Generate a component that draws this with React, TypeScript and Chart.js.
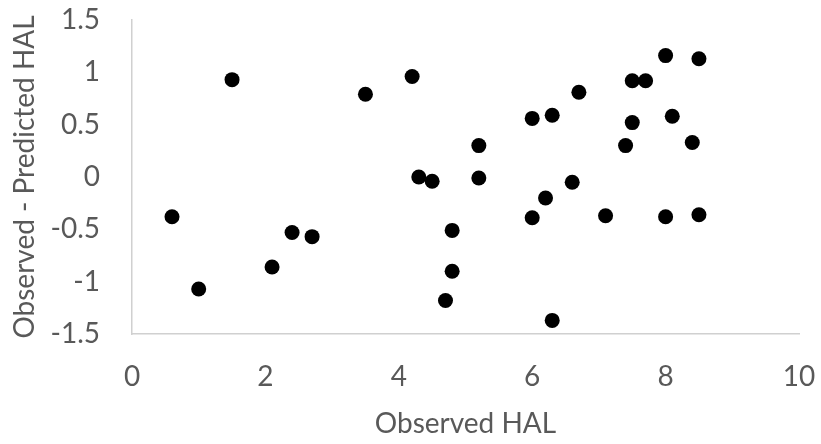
import React, { useEffect, useRef } from "react";
import { Chart, registerables } from "chart.js";

Chart.register(...registerables);

const xValues = [0.6, 1.0, 1.5, 2.1, 2.4, 2.7, 3.5, 4.2, 4.3, 4.5, 4.7, 4.8, 4.8, 5.2, 5.2, 6.0, 6.0, 6.2, 6.3, 6.3, 6.6, 6.7, 7.1, 7.4, 7.5, 7.5, 7.7, 8.0, 8.0, 8.1, 8.4, 8.5, 8.5];
const yValues = [-0.38, -1.07, 0.93, -0.86, -0.53, -0.57, 0.79, 0.96, 0.0, -0.04, -1.18, -0.51, -0.9, 0.3, -0.01, 0.56, -0.39, -0.2, 0.59, -1.37, -0.05, 0.81, -0.37, 0.3, 0.92, 0.52, 0.92, 1.16, -0.38, 0.58, 0.33, 1.13, -0.36];

const xTickValues = [0, 2, 4, 6, 8, 10];
const xTickLabels = ["0", "2", "4", "6", "8", "10"];
const yTickValues = [-1.5, -1, -0.5, 0, 0.5, 1, 1.5];
const yTickLabels = ["-1.5", "-1", "-0.5", "0", "0.5", "1", "1.5"];

const xTitle = "Observed HAL";
const yTitle = "Observed - Predicted HAL";

const FONT = "Lato, 'Open Sans', sans-serif";
const TEXT = "#595959";
const AXIS = "#d0d0d0";

function labelFor(values: number[], labels: string[], v: number) {
  const i = values.findIndex((t) => Math.abs(t - v) < 1e-9);
  return i >= 0 ? labels[i] : "";
}

export default function App() {
  const ref = useRef<HTMLCanvasElement | null>(null);
  useEffect(() => {
    if (!ref.current) return;
    const data = xValues.map((x, i) => ({ x, y: yValues[i] }));
    const chart = new Chart(ref.current, {
      type: "scatter",
      data: {
        datasets: [
          {
            data,
            backgroundColor: "#000000",
            borderColor: "#000000",
            borderWidth: 0,
            pointRadius: 7.5,
            pointHoverRadius: 7.5,
          },
        ],
      },
      options: {
        animation: false,
        responsive: false,
        maintainAspectRatio: false,
        layout: { padding: { top: 20, right: 22, left: 0, bottom: 0 } },
        plugins: { legend: { display: false }, tooltip: { enabled: false } },
        scales: {
          x: {
            type: "linear",
            min: 0,
            max: 10,
            afterBuildTicks: (axis: any) => {
              axis.ticks = xTickValues.map((v) => ({ value: v }));
            },
            ticks: {
              callback: (v: any) => labelFor(xTickValues, xTickLabels, Number(v)),
              color: TEXT,
              font: { family: FONT, size: 28 },
              padding: 26,
              maxRotation: 0,
            },
            grid: { display: false, drawTicks: false },
            border: { display: true, color: AXIS, width: 1.5 },
            title: {
              display: true,
              text: xTitle,
              color: TEXT,
              font: { family: FONT, size: 28 },
              padding: { top: 0, bottom: 3 },
            },
            afterFit: (axis: any) => {
              axis.height = 110;
              axis.paddingLeft = 0;
              axis.paddingRight = 0;
            },
          },
          y: {
            type: "linear",
            min: -1.5,
            max: 1.5,
            afterBuildTicks: (axis: any) => {
              axis.ticks = yTickValues.map((v) => ({ value: v }));
            },
            ticks: {
              callback: (v: any) => labelFor(yTickValues, yTickLabels, Number(v)),
              color: TEXT,
              font: { family: FONT, size: 28 },
              padding: 32,
            },
            grid: { display: false, drawTicks: false },
            border: { display: true, color: AXIS, width: 1.5 },
            title: {
              display: true,
              text: yTitle,
              color: TEXT,
              font: { family: FONT, size: 28 },
              padding: { top: 8, bottom: 0 },
            },
            afterFit: (axis: any) => {
              axis.width = 132;
              axis.paddingTop = 0;
              axis.paddingBottom = 0;
            },
          },
        },
      },
    });
    return () => chart.destroy();
  }, []);
  return (
    <div style={{ position: "fixed", left: 0, top: 0, width: 821, height: 444, background: "#fff" }}>
      <canvas ref={ref} width={821} height={444} style={{ width: 821, height: 444, display: "block" }} />
    </div>
  );
}
